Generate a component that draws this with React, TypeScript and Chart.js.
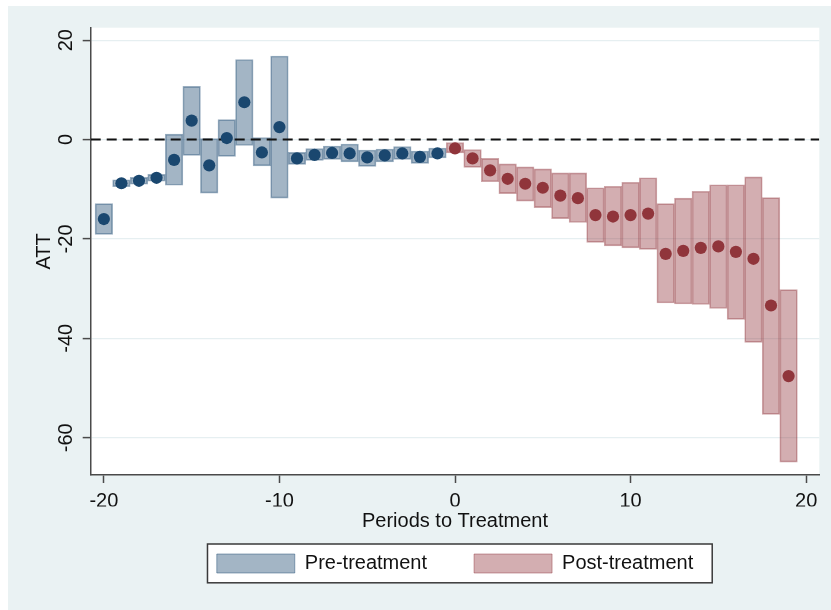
import React, { useEffect, useRef } from "react";
import { Chart, registerables } from "chart.js";

Chart.register(...registerables);

// ---- Data ----
const prePeriods = [-20, -19, -18, -17, -16, -15, -14, -13, -12, -11, -10, -9, -8, -7, -6, -5, -4, -3, -2, -1];
const preAtt = [-16.0, -8.8, -8.3, -7.7, -4.1, 3.8, -5.2, 0.3, 7.5, -2.6, 2.5, -3.8, -3.1, -2.7, -2.8, -3.6, -3.2, -2.8, -3.5, -2.8];
const preLow = [-19.1, -9.5, -9.0, -8.4, -9.2, -3.2, -10.8, -3.4, -1.2, -5.3, -11.8, -5.0, -4.2, -4.0, -4.5, -5.4, -4.5, -4.0, -4.8, -3.7];
const preHigh = [-12.9, -8.1, -7.6, -7.0, 1.1, 10.7, 0.2, 4.0, 16.1, 0.4, 16.8, -2.6, -1.8, -1.3, -0.9, -2.1, -1.9, -1.4, -2.3, -1.7];

const postPeriods = [0, 1, 2, 3, 4, 5, 6, 7, 8, 9, 10, 11, 12, 13, 14, 15, 16, 17, 18, 19];
const postAtt = [-1.8, -3.8, -6.2, -7.9, -8.9, -9.7, -11.3, -11.8, -15.2, -15.5, -15.2, -14.9, -23.0, -22.4, -21.8, -21.5, -22.6, -24.0, -33.4, -47.6];
const postLow = [-2.7, -5.6, -8.5, -10.9, -12.4, -13.7, -15.9, -16.7, -20.7, -21.4, -21.8, -22.1, -32.9, -33.1, -33.2, -34.0, -36.2, -40.8, -55.3, -64.9];
const postHigh = [-0.6, -2.0, -3.8, -4.9, -5.5, -5.9, -6.7, -6.7, -9.7, -9.4, -8.6, -7.7, -12.9, -11.8, -10.4, -9.1, -9.1, -7.5, -11.7, -30.2];

const xTickValues = [-20, -10, 0, 10, 20];
const yTickValues = [20, 0, -20, -40, -60];
const xRange = [-20.75, 20.75];
const yRange = [-67.5, 22.5];
const zeroLevel = 0;

const seriesLabels = ["Pre-treatment", "Post-treatment"];
const xTitle = "Periods to Treatment";
const yTitle = "ATT";

// ---- Styles ----
const FONT = "'Liberation Sans', Arial, Helvetica, sans-serif";
const BG = "#eaf2f3";
const GRID = "#e6eff1";
const AXIS = "#4a4a4a";
const TEXT = "#111111";
const NAVY = "#1a476f";
const MAROON = "#90353b";
const NAVY_FILL = "rgba(26,71,111,0.4)";
const NAVY_EDGE = "rgba(26,71,111,0.44)";
const MAROON_FILL = "rgba(144,53,59,0.4)";
const MAROON_EDGE = "rgba(144,53,59,0.44)";

const LEGEND_PAD = 47;

const backgroundPlugin = {
  id: "stataBackground",
  beforeDraw(chart: any) {
    const { ctx, chartArea: a, width, height } = chart;
    ctx.save();
    ctx.fillStyle = BG;
    ctx.fillRect(0, 0, width, height);
    ctx.fillStyle = "#ffffff";
    ctx.fillRect(a.left, a.top, a.right - a.left, a.bottom - a.top);
    const lg = chart.legend;
    if (lg && lg.legendHitBoxes && lg.legendHitBoxes.length) {
      const hb = lg.legendHitBoxes;
      const first = hb[0];
      const last = hb[hb.length - 1];
      const l = first.left - 9.3;
      const r = last.left + last.width + 19;
      const t = first.top - 9.5;
      const b = first.top + first.height + 9.3;
      ctx.fillStyle = "#ffffff";
      ctx.fillRect(l, t, r - l, b - t);
      ctx.strokeStyle = "#3a3a3a";
      ctx.lineWidth = 1.5;
      ctx.strokeRect(l, t, r - l, b - t);
    }
    ctx.restore();
  },
};

export default function App() {
  const canvasRef = useRef<HTMLCanvasElement | null>(null);

  useEffect(() => {
    const canvas = canvasRef.current;
    if (!canvas) return;

    const prePoints = prePeriods.map((x, i) => ({ x, y: preAtt[i] }));
    const postPoints = postPeriods.map((x, i) => ({ x, y: postAtt[i] }));
    const preBars = prePeriods.map((x, i) => ({ x, y: [preLow[i], preHigh[i]] }));
    const postBars = postPeriods.map((x, i) => ({ x, y: [postLow[i], postHigh[i]] }));
    const zeroLine = xRange.map((x) => ({ x, y: zeroLevel }));

    const tickFont = { family: FONT, size: 20 };

    const chart = new Chart(canvas, {
      type: "bar",
      data: {
        datasets: [
          {
            type: "scatter",
            label: "",
            data: prePoints,
            backgroundColor: NAVY,
            borderColor: NAVY,
            borderWidth: 0,
            pointRadius: 6.1,
            order: 0,
          } as any,
          {
            type: "scatter",
            label: "",
            data: postPoints,
            backgroundColor: MAROON,
            borderColor: MAROON,
            borderWidth: 0,
            pointRadius: 6.1,
            order: 0,
          } as any,
          {
            type: "line",
            label: "",
            data: zeroLine,
            borderColor: "#111111",
            borderWidth: 2,
            borderDash: [10, 6],
            pointRadius: 0,
            fill: false,
            order: 1,
          } as any,
          {
            type: "bar",
            label: seriesLabels[0],
            data: preBars,
            backgroundColor: NAVY_FILL,
            borderColor: NAVY_EDGE,
            borderWidth: 1,
            borderSkipped: false,
            barPercentage: 1,
            categoryPercentage: 1,
            grouped: false,
            order: 2,
          } as any,
          {
            type: "bar",
            label: seriesLabels[1],
            data: postBars,
            backgroundColor: MAROON_FILL,
            borderColor: MAROON_EDGE,
            borderWidth: 1,
            borderSkipped: false,
            barPercentage: 1,
            categoryPercentage: 1,
            grouped: false,
            order: 2,
          } as any,
        ],
      },
      options: {
        animation: false,
        responsive: true,
        maintainAspectRatio: false,
        events: [],
        layout: { padding: { left: 0, right: 11.7, top: 21.7, bottom: 26.5 } },
        scales: {
          x: {
            type: "linear",
            min: xRange[0],
            max: xRange[1],
            offset: false,
            afterBuildTicks: (s: any) => {
              s.ticks = xTickValues.map((v) => ({ value: v }));
            },
            afterFit: (s: any) => {
              s.height = 35.5 - (LEGEND_PAD - 43);
            },
            grid: {
              offset: false,
              drawOnChartArea: false,
              drawTicks: true,
              tickLength: 8,
              tickColor: AXIS,
              tickWidth: 1.5,
            },
            border: { display: true, color: AXIS, width: 1.5 },
            ticks: {
              font: tickFont,
              color: TEXT,
              padding: 6,
              maxRotation: 0,
              autoSkip: false,
              callback: (v: any) => String(v),
            },
            title: {
              display: true,
              text: xTitle,
              font: tickFont,
              color: TEXT,
              padding: { top: 0, bottom: -23.2 - (LEGEND_PAD - 43) },
            },
          },
          y: {
            type: "linear",
            min: yRange[0],
            max: yRange[1],
            afterBuildTicks: (s: any) => {
              s.ticks = yTickValues.map((v) => ({ value: v }));
            },
            afterFit: (s: any) => {
              s.width = 82.7;
            },
            grid: {
              color: GRID,
              lineWidth: 1.2,
              drawTicks: true,
              tickLength: 8,
              tickColor: AXIS,
              tickWidth: 1.5,
            },
            border: { display: true, color: AXIS, width: 1.5 },
            ticks: {
              font: tickFont,
              color: TEXT,
              minRotation: 90,
              maxRotation: 90,
              crossAlign: "center",
              padding: 1.5,
              autoSkip: false,
              callback: (v: any) => String(v),
            },
            title: {
              display: true,
              text: yTitle,
              font: tickFont,
              color: TEXT,
              padding: { top: 24, bottom: 0 },
            },
          },
        },
        plugins: {
          tooltip: { enabled: false },
          legend: {
            display: true,
            position: "bottom",
            fullSize: false,
            labels: {
              font: tickFont,
              color: TEXT,
              boxWidth: 78,
              boxHeight: 19,
              padding: LEGEND_PAD,
              filter: (item: any) => !!item.text,
            },
          },
        },
      } as any,
      plugins: [backgroundPlugin],
    });

    return () => chart.destroy();
  }, []);

  return (
    <div
      style={{
        position: "absolute",
        left: 8,
        top: 6,
        width: 823,
        height: 604,
        background: BG,
      }}
    >
      <canvas ref={canvasRef} />
    </div>
  );
}
